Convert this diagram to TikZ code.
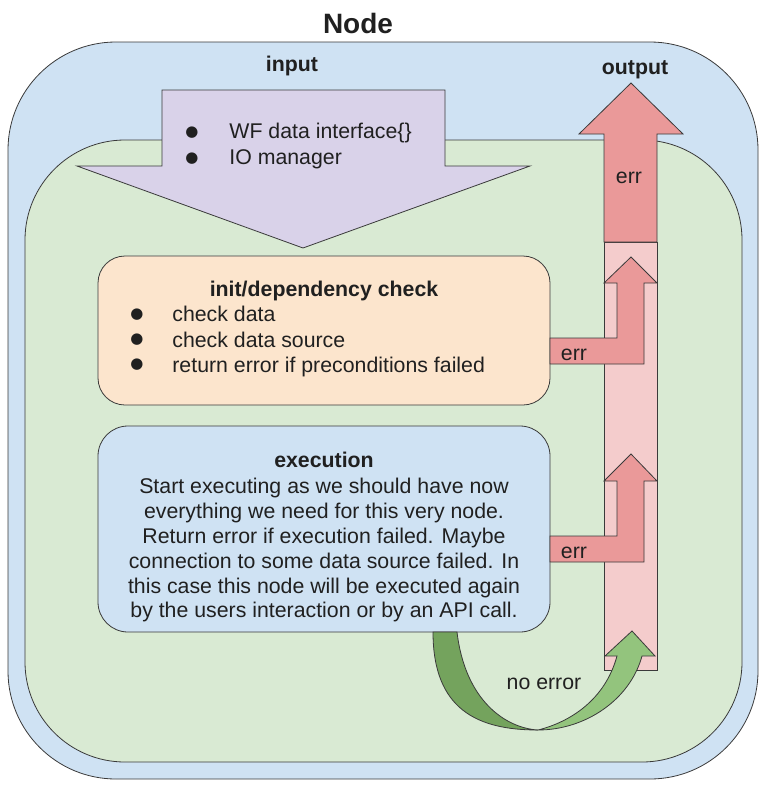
\documentclass[tikz,border=0pt]{standalone}
\usepackage{fontspec}
\setmainfont{Liberation Sans}
\newfontfamily\bulletfont{DejaVu Sans}
\definecolor{linec}{HTML}{3A3A3A}
\definecolor{textc}{HTML}{202020}
\definecolor{outerblue}{HTML}{CFE2F3}
\definecolor{innergreen}{HTML}{D9EAD3}
\definecolor{inpurple}{HTML}{D9D2E9}
\definecolor{initorange}{HTML}{FCE5CD}
\definecolor{execblue}{HTML}{CFE2F3}
\definecolor{errred}{HTML}{EA9999}
\definecolor{errpink}{HTML}{F4CCCC}
\definecolor{okdark}{HTML}{74A35D}
\definecolor{oklight}{HTML}{93C47D}
\begin{document}
\begin{tikzpicture}[x=1pt,y=-1pt,line width=0.8pt,
  shapeline/.style={draw=linec},
  txt/.style={inner sep=0pt,anchor=base,text=textc,font=\fontsize{21.3}{24}\selectfont},
  btxt/.style={inner sep=0pt,anchor=base,text=textc,font=\bfseries\fontsize{21.3}{24}\selectfont},
  ltxt/.style={txt,anchor=base west},
  bul/.style={inner sep=0pt,anchor=center,text=textc,font=\bulletfont\fontsize{15}{15}\selectfont}]
\useasboundingbox (0,0) rectangle (769,795);
% outer node container
\path[shapeline,fill=outerblue,rounded corners=108] (8,42) rectangle (758,779);
% inner green area
\path[shapeline,fill=innergreen,rounded corners=100] (25,140) rectangle (742,762);
% input arrow
\path[shapeline,fill=inpurple] (162,90) -- (445,90) -- (445,166) -- (530,166) -- (303,248) -- (77,166) -- (162,166) -- cycle;
% error collector column
\path[shapeline,fill=errpink] (604,242) rectangle (657,670);
% output arrow
\path[shapeline,fill=errred] (604,242) -- (604,134) -- (579,134) -- (631,83) -- (683,134) -- (657,134) -- (657,242) -- cycle;
% init box
\path[shapeline,fill=initorange,rounded corners=27] (98,256) rectangle (550,405);
% execution box
\path[shapeline,fill=execblue,rounded corners=30] (98,426) rectangle (550,632);
% init error arrow
\path[shapeline,fill=errred] (550,338) -- (617,338) -- (617,283) -- (604,283) -- (631,257) -- (657,283) -- (644,283) -- (644,364) -- (550,364) -- cycle;
% execution error arrow
\path[shapeline,fill=errred] (550,536) -- (617,536) -- (617,481) -- (604,481) -- (631,454) -- (657,481) -- (644,481) -- (644,562) -- (550,562) -- cycle;
% no error curved arrow
\path[shapeline,fill=okdark] (433,632) .. controls (433,710) and (478,730) .. (538,730) .. controls (505,728) and (465,700) .. (457,632) -- cycle;
\path[shapeline,fill=oklight] (538,730) .. controls (585,730) and (630,700) .. (642,656) -- (655,656) -- (632,631) -- (605,656) -- (617,656) .. controls (605,700) and (570,722) .. (538,730) -- cycle;
% texts
\node[inner sep=0pt,anchor=base,text=textc,font=\bfseries\fontsize{28}{30}\selectfont] (nodetitle) at (358,33) {Node};
\node[btxt] (inputlbl) at (292,71) {input};
\node[btxt] (outputlbl) at (635,74) {output};
\node[bul] (ib1) at (192,133) {●};
\node[ltxt] (it1) at (229,138) {WF data interface\{\}};
\node[bul] (ib2) at (192,159) {●};
\node[ltxt] (it2) at (229,164) {IO manager};
\node[btxt] (inittitle) at (324,296) {init/dependency check};
\node[bul] (cb1) at (137,315) {●};
\node[ltxt] (ct1) at (172,321) {check data};
\node[bul] (cb2) at (137,340) {●};
\node[ltxt] (ct2) at (172,347) {check data source};
\node[bul] (cb3) at (137,365) {●};
\node[ltxt] (ct3) at (172,372) {return error if preconditions failed};
\node[btxt] (exectitle) at (324,467) {execution};
\node[txt] (e1) at (324,493) {Start executing as we should have now};
\node[txt] (e2) at (324,518) {everything we need for this very node.};
\node[txt] (e3) at (324,543) {Return error if execution failed. Maybe};
\node[txt] (e4) at (324,568) {connection to some data source failed. In};
\node[txt] (e5) at (324,593) {this case this node will be executed again};
\node[txt] (e6) at (324,617) {by the users interaction or by an API call.};
\node[txt] (err1) at (574,360) {err};
\node[txt] (err2) at (574,558) {err};
\node[txt] (err3) at (629,183) {err};
\node[txt] (noerr) at (544,689) {no error};
\end{tikzpicture}
\end{document}
